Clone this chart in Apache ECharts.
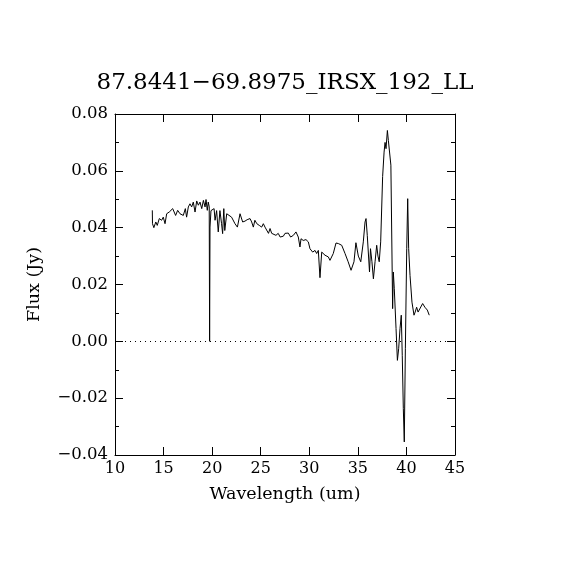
<!DOCTYPE html>
<html>
<head>
<meta charset="utf-8">
<script src="https://cdn.jsdelivr.net/npm/echarts@6/dist/echarts.min.js"></script>
<style>
html, body { margin: 0; padding: 0; background: #fff; }
#chart { width: 570px; height: 570px; }
</style>
</head>
<body>
<div id="chart"></div>
<script>
var titleText = "87.8441\u221269.8975_IRSX_192_LL";

var wavelength = [13.84, 13.86, 14.0, 14.2, 14.35, 14.56, 14.8, 14.97, 15.15, 15.32,
    15.58, 15.72, 15.94, 16.1, 16.24, 16.45, 16.69, 16.86, 17.03, 17.24,
    17.37, 17.55, 17.72, 17.89, 18.06, 18.24, 18.41, 18.58, 18.75, 18.93,
    19.1, 19.27, 19.37, 19.5, 19.6, 19.7, 19.74, 19.78, 19.88, 20.05,
    20.2, 20.3, 20.46, 20.63, 20.8, 20.97, 21.08, 21.2, 21.3, 21.5,
    21.66, 22.0, 22.35, 22.6, 22.87, 22.97, 23.14, 23.38, 23.6, 23.9,
    24.07, 24.24, 24.4, 24.6, 24.85, 25.1, 25.27, 25.44, 25.6, 25.8,
    25.96, 26.13, 26.3, 26.57, 26.8, 27.0, 27.16, 27.33, 27.5, 27.84,
    28.08, 28.36, 28.63, 28.87, 29.04, 29.15, 29.38, 29.66, 29.9, 30.07,
    30.35, 30.59, 30.76, 30.93, 31.1, 31.28, 31.62, 31.96, 32.13, 32.3,
    32.47, 32.75, 33.0, 33.34, 33.68, 34.0, 34.3, 34.6, 34.8, 35.05,
    35.3, 35.56, 35.74, 35.84, 35.97, 36.2, 36.3, 36.45, 36.6, 36.77,
    36.94, 37.07, 37.2, 37.35, 37.55, 37.7, 37.8, 37.9, 38.04, 38.14,
    38.4, 38.58, 38.65, 38.75, 38.93, 39.07, 39.2, 39.34, 39.47, 39.57,
    39.68, 39.78, 39.89, 40.03, 40.13, 40.23, 40.37, 40.57, 40.78, 40.9,
    41.05, 41.2, 41.4, 41.67, 41.9, 42.15, 42.35];

var flux = [0.0461, 0.0414, 0.040, 0.042, 0.0408, 0.0432, 0.0426, 0.0437, 0.0414, 0.0449,
    0.0455, 0.0461, 0.0467, 0.0473, 0.0443, 0.0461, 0.0449, 0.0455, 0.0443, 0.0467,
    0.0437, 0.0473, 0.0484, 0.0473, 0.049, 0.0455, 0.0494, 0.0479, 0.049, 0.0467,
    0.0496, 0.0473, 0.0499, 0.0461, 0.049, 0.0473, 0.000, 0.0402, 0.046, 0.0455,
    0.0467, 0.0426, 0.046, 0.0385, 0.046, 0.0414, 0.0379, 0.0467, 0.039, 0.0449,
    0.0443, 0.0437, 0.0414, 0.0402, 0.0449, 0.0452, 0.042, 0.0423, 0.0428, 0.0432,
    0.042, 0.0402, 0.0426, 0.0414, 0.0408, 0.0402, 0.0414, 0.0402, 0.0402, 0.038,
    0.0397, 0.038, 0.0385, 0.0373, 0.038, 0.0367, 0.0373, 0.037, 0.038, 0.0381,
    0.0367, 0.0373, 0.0385, 0.0367, 0.0332, 0.0361, 0.0355, 0.0358, 0.035, 0.0326,
    0.0314, 0.032, 0.0309, 0.032, 0.0224, 0.0314, 0.0303, 0.0297, 0.0285, 0.0283,
    0.0309, 0.0346, 0.0344, 0.0338, 0.0309, 0.028, 0.025, 0.028, 0.0347, 0.030,
    0.028, 0.035, 0.042, 0.0432, 0.0373, 0.0244, 0.0326, 0.028, 0.022, 0.028,
    0.0338, 0.030, 0.028, 0.035, 0.058, 0.0666, 0.070, 0.0678, 0.0742, 0.0707,
    0.062, 0.0115, 0.0244, 0.0185, 0.0045, -0.0067, -0.0026, 0.0045, 0.0092, -0.0049,
    -0.0237, -0.0354, -0.0026, 0.0326, 0.0502, 0.0326, 0.0232, 0.0138, 0.0092, 0.0103,
    0.012, 0.0103, 0.011, 0.0133, 0.012, 0.011, 0.0092];

var spectrum = wavelength.map(function(w, i) { return [w, flux[i]]; });

var font = "DejaVu Serif";
var chart = echarts.init(document.getElementById("chart"));

var boxAxis = {
    axisLine: { show: true, onZero: false, lineStyle: { color: "#000", width: 1 } },
    axisTick: { show: true, inside: true, length: 8, lineStyle: { color: "#000" } },
    splitLine: { show: false }
};

var option = {
    backgroundColor: "#fff",
    animation: false,
    title: {
        text: titleText,
        left: "center",
        top: 67,
        textStyle: { fontFamily: font, fontWeight: "normal", fontSize: 23, color: "#000" }
    },
    grid: { left: 115, right: 115, top: 114, bottom: 115 },
    xAxis: [
        Object.assign({}, boxAxis, {
            type: "value", min: 10, max: 45, interval: 5, position: "bottom",
            name: "Wavelength (um)", nameLocation: "middle", nameGap: 30,
            nameTextStyle: { fontFamily: font, fontSize: 17.5, color: "#000" },
            axisLabel: { fontFamily: font, fontSize: 16, color: "#000", margin: 6 }
        }),
        Object.assign({}, boxAxis, {
            type: "value", min: 10, max: 45, interval: 5, position: "top",
            axisLabel: { show: false }
        })
    ],
    yAxis: [
        Object.assign({}, boxAxis, {
            type: "value", min: -0.04, max: 0.08, interval: 0.02, position: "left",
            name: "Flux (Jy)", nameLocation: "middle", nameGap: 72,
            nameTextStyle: { fontFamily: font, fontSize: 17.5, color: "#000" },
            minorTick: { show: true, splitNumber: 2, length: 4, lineStyle: { color: "#000" } },
            axisLabel: { fontFamily: font, fontSize: 16.5, color: "#000", margin: 7,
                formatter: function(v) { return v.toFixed(2).replace("-", "\u2212"); } }
        }),
        Object.assign({}, boxAxis, {
            type: "value", min: -0.04, max: 0.08, interval: 0.02, position: "right",
            minorTick: { show: true, splitNumber: 2, length: 4, lineStyle: { color: "#000" } },
            axisLabel: { show: false }
        })
    ],
    series: [{
        type: "line",
        data: spectrum,
        showSymbol: false,
        lineStyle: { color: "#000", width: 1 },
        markLine: {
            silent: true,
            symbol: "none",
            label: { show: false },
            lineStyle: { color: "#000", type: [1, 4], width: 1 },
            data: [{ yAxis: 0 }]
        }
    }]
};

chart.setOption(option);
</script>
</body>
</html>
